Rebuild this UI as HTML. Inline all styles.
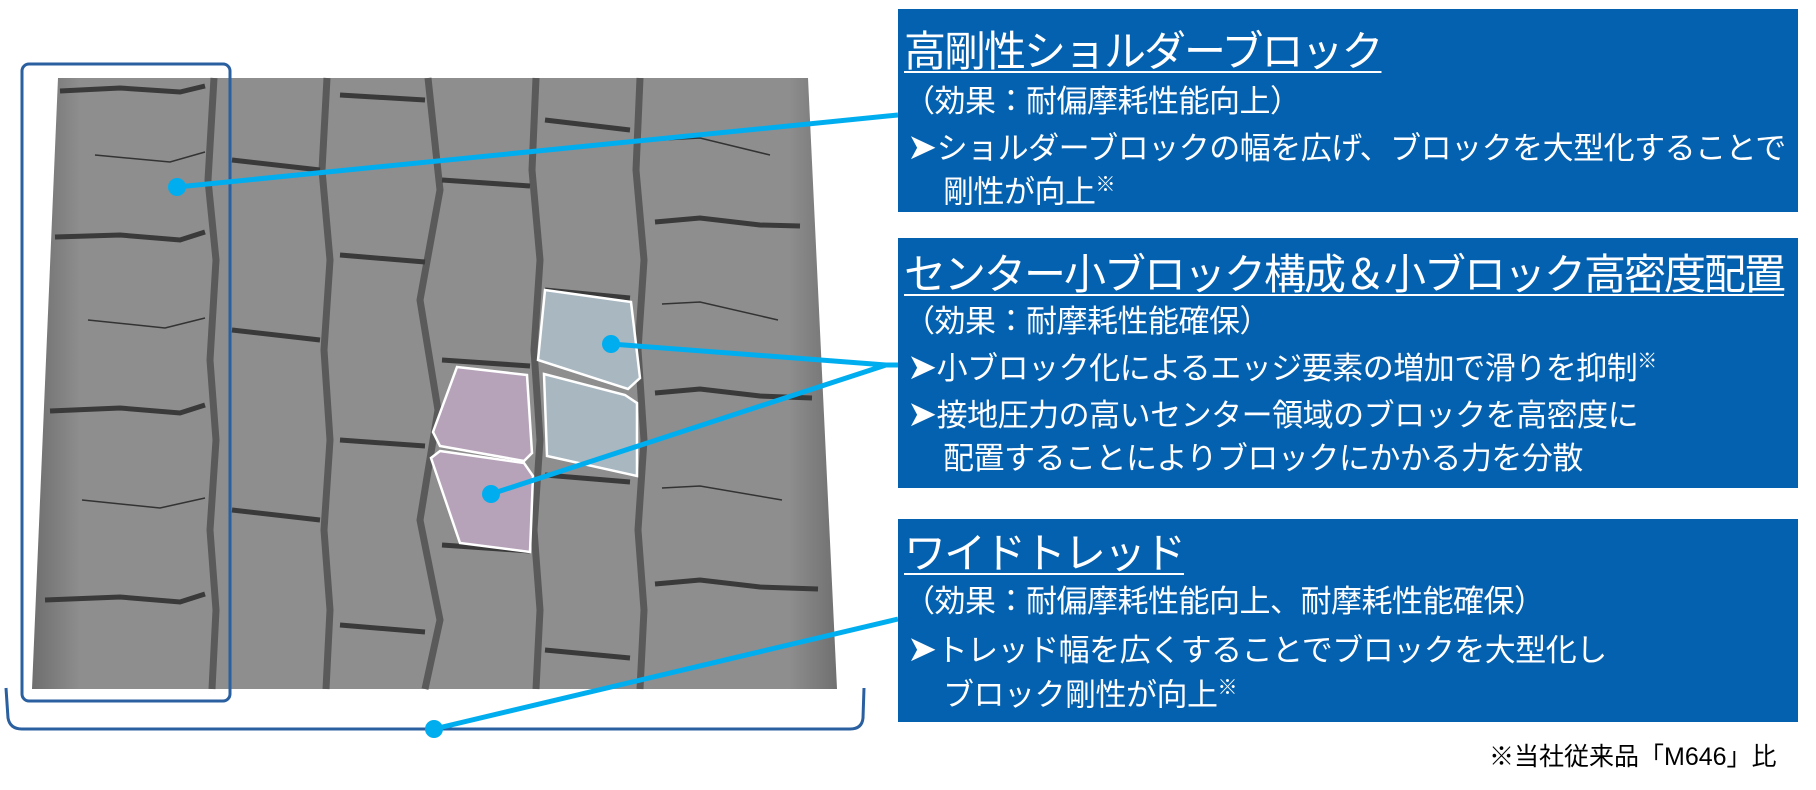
<!DOCTYPE html>
<html><head><meta charset="utf-8"><style>
body{margin:0;width:1816px;height:790px;background:#fff;overflow:hidden;position:relative;font-family:"Liberation Sans","Noto Sans CJK JP",sans-serif}
.box{position:absolute;left:898px;width:900px;background:#0461b0;}
.t{position:absolute;color:#fff;white-space:nowrap;line-height:1;}
.h{font-size:42px;letter-spacing:-2px;text-decoration:underline;text-decoration-thickness:2px;text-underline-offset:5px;left:6px}
.b{font-size:31px;letter-spacing:-0.5px}
.a{font-size:36px;}
</style></head><body>
<svg width="1816" height="790" style="position:absolute;left:0;top:0">
<defs><linearGradient id="g" x1="0" x2="1"><stop offset="0" stop-color="#6e6e6e"/><stop offset="0.06" stop-color="#8e8e8e"/><stop offset="0.94" stop-color="#8e8e8e"/><stop offset="1" stop-color="#707070"/></linearGradient></defs>
<polygon points="58,78 808,78 837,689 32,689" fill="url(#g)"/>
<g stroke="#5a5a5a" stroke-width="7" fill="none">
<polyline points="214,78 208,180 216,260 210,360 216,440 210,530 216,610 212,689"/>
<polyline points="327,78 322,170 330,260 324,350 330,440 324,530 330,610 326,689"/>
<polyline points="428,78 440,190 420,300 438,410 420,520 440,620 425,689"/>
<polyline points="536,78 532,170 540,260 534,350 540,440 534,530 540,610 536,689"/>
<polyline points="640,78 636,170 644,260 638,350 644,440 638,530 644,610 640,689"/>
</g>
<g stroke="#3a3a3a" stroke-width="5" fill="none">
<polyline points="60,91 120,88 180,92 205,86"/><polyline points="55,237 120,235 180,240 205,232"/>
<polyline points="50,411 120,408 180,413 205,405"/><polyline points="45,600 120,597 180,602 205,594"/>
<polyline points="655,222 700,218 760,225 800,226"/><polyline points="655,393 700,389 760,396 812,398"/>
<polyline points="655,584 700,580 760,587 818,589"/>
<line x1="232" y1="160" x2="320" y2="170"/><line x1="232" y1="330" x2="320" y2="340"/><line x1="232" y1="510" x2="320" y2="520"/>
<line x1="340" y1="95" x2="425" y2="100"/><line x1="340" y1="255" x2="425" y2="262"/><line x1="340" y1="440" x2="425" y2="446"/><line x1="340" y1="625" x2="425" y2="632"/>
<line x1="442" y1="180" x2="530" y2="186"/><line x1="442" y1="360" x2="530" y2="366"/><line x1="442" y1="545" x2="530" y2="551"/>
<line x1="545" y1="120" x2="630" y2="130"/><line x1="545" y1="290" x2="630" y2="298"/><line x1="545" y1="475" x2="630" y2="482"/><line x1="545" y1="650" x2="630" y2="658"/>
</g>
<g stroke="#333" stroke-width="1.5" fill="none">
<polyline points="95,155 170,162 205,152"/><polyline points="88,320 165,328 205,318"/><polyline points="82,500 160,508 205,498"/>
<polyline points="662,140 700,138 770,155"/><polyline points="662,304 700,302 778,320"/><polyline points="662,488 700,486 782,500"/>
</g>
<polygon points="545,290 631,302 640,378 628,389 538,360" fill="#a9b7c0" stroke="#fff" stroke-width="2.5"/>
<polygon points="544,374 625,395 637,403 637,476 547,456" fill="#a9b7c0" stroke="#fff" stroke-width="2.5"/>
<polygon points="457,367 527,375 532,453 524,461 440,446 433,432" fill="#b6a3b9" stroke="#fff" stroke-width="2.5"/>
<polygon points="440,451 524,463 533,476 530,552 460,543 431,458" fill="#b6a3b9" stroke="#fff" stroke-width="2.5"/>
<rect x="22" y="64" width="208" height="637" rx="7" fill="none" stroke="#2a5fa0" stroke-width="3"/>
<path d="M6,688 L8,718 Q10,729 22,729 L850,729 Q862,729 863,718 L864,688" fill="none" stroke="#2a5fa0" stroke-width="3"/>
<g stroke="#00aeef" stroke-width="5" fill="none">
<line x1="177" y1="187" x2="898" y2="115"/>
<line x1="611" y1="344" x2="886" y2="365"/><line x1="491" y1="494" x2="886" y2="365"/><line x1="886" y1="365" x2="898" y2="365"/>
<line x1="434" y1="729" x2="898" y2="619"/>
</g>
<g fill="#00aeef"><circle cx="177" cy="187" r="9"/><circle cx="611" cy="344" r="9"/><circle cx="491" cy="494" r="9"/><circle cx="434" cy="729" r="9"/></g>
</svg>
<div class="box" style="top:9px;height:203px">
<div class="t h" style="top:22px">高剛性ショルダーブロック</div>
<div class="t b" style="top:77px;left:6px">（効果：耐偏摩耗性能向上）</div>
<div class="t b" style="top:120px;left:9px"><span class="a">➤</span>ショルダーブロックの幅を広げ、ブロックを大型化することで</div>
<div class="t b" style="top:166px;left:45px">剛性が向上<sup style="font-size:20px">※</sup></div>
</div>
<div class="box" style="top:238px;height:250px">
<div class="t h" style="top:16px">センター小ブロック構成＆小ブロック高密度配置</div>
<div class="t b" style="top:68px;left:6px">（効果：耐摩耗性能確保）</div>
<div class="t b" style="top:111px;left:9px"><span class="a">➤</span>小ブロック化によるエッジ要素の増加で滑りを抑制<sup style="font-size:20px">※</sup></div>
<div class="t b" style="top:158px;left:9px"><span class="a">➤</span>接地圧力の高いセンター領域のブロックを高密度に</div>
<div class="t b" style="top:205px;left:45px">配置することによりブロックにかかる力を分散</div>
</div>
<div class="box" style="top:519px;height:203px">
<div class="t h" style="top:14px">ワイドトレッド</div>
<div class="t b" style="top:67px;left:6px">（効果：耐偏摩耗性能向上、耐摩耗性能確保）</div>
<div class="t b" style="top:112px;left:9px"><span class="a">➤</span>トレッド幅を広くすることでブロックを大型化し</div>
<div class="t b" style="top:159px;left:45px">ブロック剛性が向上<sup style="font-size:20px">※</sup></div>
</div>
<div class="t" style="left:1489px;top:745px;font-size:25px;color:#000">※当社従来品「M646」比</div>
</body></html>
